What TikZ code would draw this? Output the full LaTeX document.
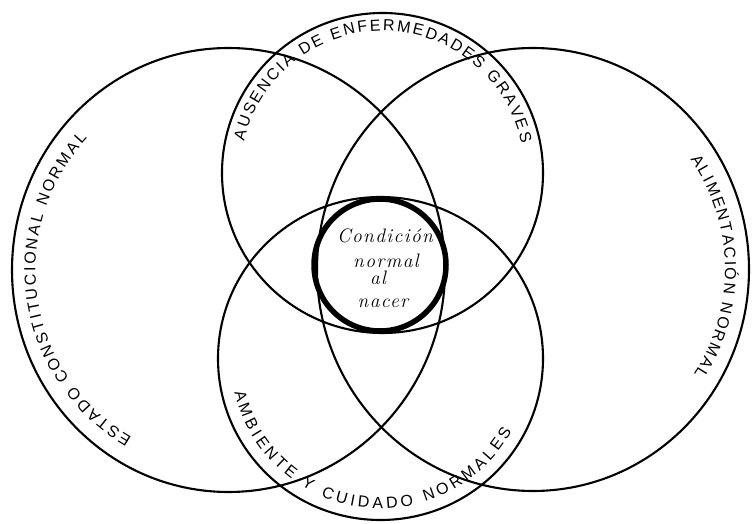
\documentclass[tikz,border=0pt]{standalone}
\usepackage{fontspec}
\setsansfont{Liberation Sans}
\usetikzlibrary{decorations.text}
\newfontfamily\handit{Latin Modern Roman}[LetterSpace=7]
\newcommand{\capslab}{\sffamily\fontsize{16}{16}\selectfont}
\tikzset{
  ring/.style={draw=black, line width=2.1pt},
  corering/.style={draw=black, line width=5.5pt},
  arclabel/.style={decorate, decoration={text along path, text align={fit to path}}},
  midtext/.style={anchor=base, inner sep=0pt, font=\handit\itshape\fontsize{19.5}{19.5}\selectfont},
}
\begin{document}
\begin{tikzpicture}[x=1pt,y=1pt]
\useasboundingbox (0,0) rectangle (753,523);
\fill[white] (0,0) rectangle (753,523);
\coordinate (cl) at (228.5,253);
\coordinate (cr) at (533,253.5);
\coordinate (ct) at (382.5,350);
\coordinate (cb) at (380.5,164.5);
\coordinate (cc) at (380,258);
% circles
\draw[ring] (cl) ellipse [x radius=216.5, y radius=222];
\draw[ring] (cr) ellipse [x radius=216, y radius=221.5];
\draw[ring] (ct) ellipse [x radius=160.5, y radius=160];
\draw[ring] (cb) ellipse [x radius=162.5, y radius=161.5];
\draw[corering] (cc) circle [radius=66];
% curved labels
\path[arclabel, decoration={text={|\capslab|AUSENCIA DE ENFERMEDADES GRAVES}}]
  (ct) ++(167:142) arc [start angle=167, end angle=12, radius=142];
\path[arclabel, decoration={text={|\capslab|ESTADO CONSTITUCIONAL NORMAL}}]
  (cl) ++(240:193) arc [start angle=240, end angle=137, radius=193];
\path[arclabel, decoration={text={|\capslab|ALIMENTACIÓN NORMAL}}]
  (cr) ++(35:192) arc [start angle=35, end angle=-33, radius=192];
\path[arclabel, decoration={text={|\capslab|AMBIENTE Y CUIDADO NORMALES}}]
  (cb) ++(193:150) arc [start angle=193, end angle=331, radius=150];
% centre text
\node[midtext] (t1) at (385,280) {Condición};
\node[midtext] (t2) at (386,255) {normal};
\node[midtext] (t3) at (378,238) {al};
\node[midtext] (t4) at (383,215) {nacer};
\end{tikzpicture}
\end{document}
